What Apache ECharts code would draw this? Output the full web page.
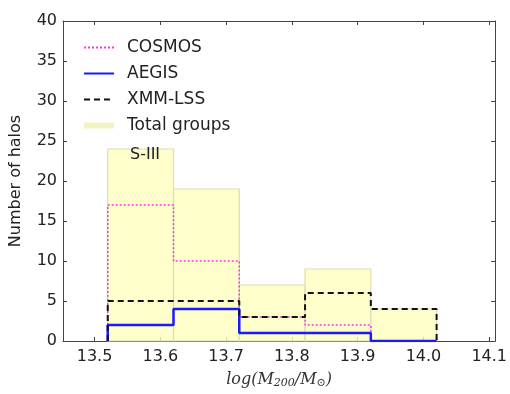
<!DOCTYPE html>
<html>
<head>
<meta charset="utf-8">
<script src="https://cdn.jsdelivr.net/npm/echarts@6/dist/echarts.min.js"></script>
<style>
  html, body { margin: 0; padding: 0; background: #fff; }
  #main { width: 510px; height: 394px; }
</style>
</head>
<body>
<div id="main"></div>
<script>
// bin edges of the histogram (log M200)
const binEdges = [13.52, 13.62, 13.72, 13.82, 13.92, 14.02];
// counts per bin
const totalGroups = [24, 19, 7, 9, 4];
const cosmos = [17, 10, 3, 2, 0];
const aegis = [2, 4, 1, 1, 0];
const xmmLss = [5, 5, 3, 6, 4];
const xTicks = [13.5, 13.6, 13.7, 13.8, 13.9, 14.0, 14.1];

// step outline like matplotlib histtype='step'
function stepPoints(vals) {
    const pts = [[binEdges[0], 0]];
    vals.forEach((v, i) => {
        pts.push([binEdges[i], v]);
        pts.push([binEdges[i + 1], v]);
    });
    pts.push([binEdges[binEdges.length - 1], 0]);
    return pts;
}

const chart = echarts.init(document.getElementById('main'));
const font = 'DejaVu Sans';
const axisCol = '#444';

const option = {
    animation: false,
    grid: { left: 60, top: 21, right: 14, bottom: 47 },
    title: {
        text: 'S-III',
        left: 125, top: 142,
        textStyle: { fontFamily: font, fontSize: 16, fontWeight: 'normal', color: '#222' }
    },
    legend: {
        left: 78, top: 34,
        orient: 'vertical',
        itemWidth: 30, itemHeight: 6, itemGap: 9,
        itemStyle: { opacity: 0 },
        textStyle: { fontFamily: font, fontSize: 17, color: '#222', padding: [0, 0, 0, 8] },
        data: [
            { name: 'COSMOS' },
            { name: 'AEGIS' },
            { name: 'XMM-LSS' },
            { name: 'Total groups', icon: 'rect', itemStyle: { color: '#f2f2c2', opacity: 1 } }
        ]
    },
    xAxis: [{
        type: 'value', min: 13.452, max: 14.109,
        name: '{i|log(M}{s|200}{i|/M}{s|⊙}{i|)}',
        nameLocation: 'middle', nameGap: 29,
        nameTextStyle: {
            rich: {
                i: { fontFamily: 'DejaVu Serif', fontStyle: 'italic', fontSize: 16, color: '#333' },
                s: { fontFamily: 'DejaVu Serif', fontStyle: 'italic', fontSize: 11, color: '#333', verticalAlign: 'bottom', padding: [8, 0, 0, 0] }
            }
        },
        splitLine: { show: false },
        axisLine: { onZero: false, lineStyle: { color: axisCol } },
        axisTick: { inside: true, length: 4, customValues: xTicks, lineStyle: { color: axisCol } },
        axisLabel: {
            customValues: xTicks, margin: 8,
            formatter: v => v.toFixed(1),
            fontFamily: font, fontSize: 16, color: '#222'
        }
    }, {
        type: 'value', min: 13.452, max: 14.109, position: 'top',
        splitLine: { show: false },
        axisLine: { onZero: false, lineStyle: { color: axisCol } },
        axisTick: { inside: true, length: 4, customValues: xTicks, lineStyle: { color: axisCol } },
        axisLabel: { show: false }
    }],
    yAxis: [{
        type: 'value', min: 0, max: 40, interval: 5,
        name: 'Number of halos',
        nameLocation: 'middle', nameGap: 39,
        nameTextStyle: { fontFamily: font, fontSize: 16, color: '#222' },
        splitLine: { show: false },
        axisLine: { show: true, lineStyle: { color: axisCol } },
        axisTick: { show: true, inside: true, length: 4, lineStyle: { color: axisCol } },
        axisLabel: { margin: 6, fontFamily: font, fontSize: 16, color: '#222' }
    }, {
        type: 'value', min: 0, max: 40, interval: 5, position: 'right',
        splitLine: { show: false },
        axisLine: { show: true, lineStyle: { color: axisCol } },
        axisTick: { show: true, inside: true, length: 4, lineStyle: { color: axisCol } },
        axisLabel: { show: false }
    }],
    series: [
        {
            name: 'Total groups',
            type: 'custom',
            data: totalGroups.map((v, i) => [binEdges[i], binEdges[i + 1], v]),
            renderItem: (params, api) => {
                const p0 = api.coord([api.value(0), api.value(2)]);
                const p1 = api.coord([api.value(1), 0]);
                return {
                    type: 'rect',
                    shape: { x: p0[0], y: p0[1], width: p1[0] - p0[0], height: p1[1] - p0[1] },
                    style: { fill: 'rgba(255,255,190,0.8)', stroke: '#dedeb0', lineWidth: 1.2 }
                };
            },
            itemStyle: { color: '#f2f2c2' },
            z: 1
        },
        {
            name: 'COSMOS', type: 'line', data: stepPoints(cosmos),
            symbol: 'none', color: '#ff33ee',
            lineStyle: { color: '#ff33ee', width: 1.5, type: [2, 2] }, z: 3
        },
        {
            name: 'AEGIS', type: 'line', data: stepPoints(aegis),
            symbol: 'none', color: '#1a1aff',
            lineStyle: { color: '#1a1aff', width: 2.5 }, z: 4
        },
        {
            name: 'XMM-LSS', type: 'line', data: stepPoints(xmmLss),
            symbol: 'none', color: '#111',
            lineStyle: { color: '#111', width: 2, type: [6, 4] }, z: 5
        }
    ]
};
chart.setOption(option);
</script>
</body>
</html>
